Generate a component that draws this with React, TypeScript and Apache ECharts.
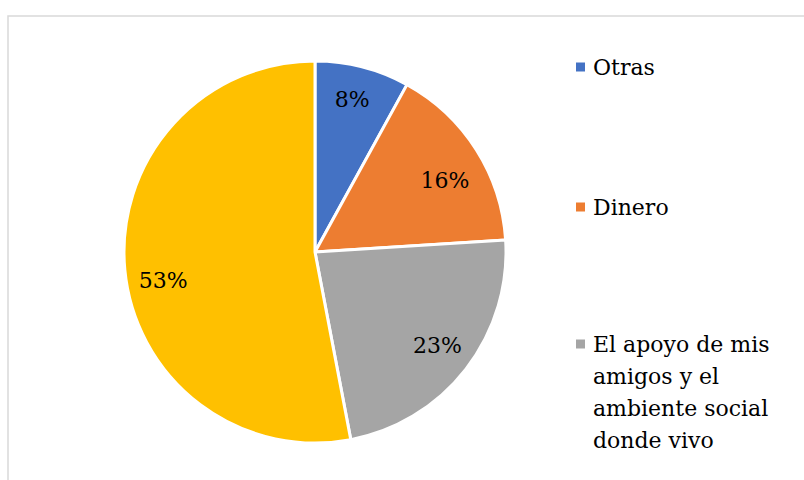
import React, { useEffect, useRef } from "react";
import * as echarts from "echarts";

const categories = [
  "Otras",
  "Dinero",
  "El apoyo de mis amigos y el ambiente social donde vivo",
  "Otro motivo",
];
const values = [8, 16, 23, 53];
const colors = ["#4472C4", "#ED7D31", "#A5A5A5", "#FFC000"];
const legendCount = 3;

function wrap(text: string, maxChars: number): string {
  const words = text.split(" ");
  const lines: string[] = [];
  let cur = "";
  for (const w of words) {
    const next = cur ? cur + " " + w : w;
    if (next.length > maxChars && cur) {
      lines.push(cur);
      cur = w;
    } else {
      cur = next;
    }
  }
  if (cur) lines.push(cur);
  return lines.join("\n");
}

export default function App() {
  const ref = useRef<HTMLDivElement>(null);
  useEffect(() => {
    document.body.style.margin = "0";
    const chart = echarts.init(ref.current!, null, { renderer: "svg" });
    const font = "DejaVu Serif";
    const labelOffsets = [
      [-2, 0],
      [-3, 13],
      [-2, -3],
      [5, 14],
    ];
    const data = categories.map((name, i) => ({
      name,
      value: values[i],
      itemStyle: { color: colors[i] },
    }));
    const legendTops = [67, 207, 344];
    const graphics: any[] = [
      {
        type: "rect",
        shape: { x: 8, y: 16, width: 820, height: 500 },
        style: { fill: "none", stroke: "#d9d9d9", lineWidth: 1.5 },
        silent: true,
      },
    ];
    for (let i = 0; i < legendCount; i++) {
      graphics.push({
        type: "rect",
        shape: { x: 576, y: legendTops[i] - 4.5, width: 9, height: 9 },
        style: { fill: colors[i] },
      });
      graphics.push({
        type: "text",
        x: 593,
        y: legendTops[i] - 16,
        style: {
          text: wrap(categories[i], 15),
          fill: "#000",
          fontFamily: font,
          fontSize: 22,
          lineHeight: 32,
          verticalAlign: "top",
          align: "left",
        },
      });
    }
    chart.setOption({
      animation: false,
      backgroundColor: "#fff",
      textStyle: { fontFamily: font },
      graphic: graphics,
      series: [
        {
          type: "pie",
          center: [315, 252],
          radius: [0, 191],
          startAngle: 90,
          clockwise: true,
          data,
          label: { show: false },
          labelLine: { show: false },
          itemStyle: { borderColor: "#fff", borderWidth: 3 },
          silent: true,
        },
        {
          type: "pie",
          center: [315, 252],
          radius: [118, 191],
          startAngle: 90,
          clockwise: true,
          data: data.map((d, i) => ({
            ...d,
            itemStyle: { color: "transparent" },
            label: { offset: labelOffsets[i] },
          })),
          label: {
            show: true,
            position: "inside",
            formatter: (p: any) => `${p.value}%`,
            color: "#000",
            fontFamily: font,
            fontSize: 22,
          },
          labelLine: { show: false },
          silent: true,
        },
      ],
    });
    return () => chart.dispose();
  }, []);
  return <div ref={ref} style={{ width: 804, height: 480 }} />;
}
